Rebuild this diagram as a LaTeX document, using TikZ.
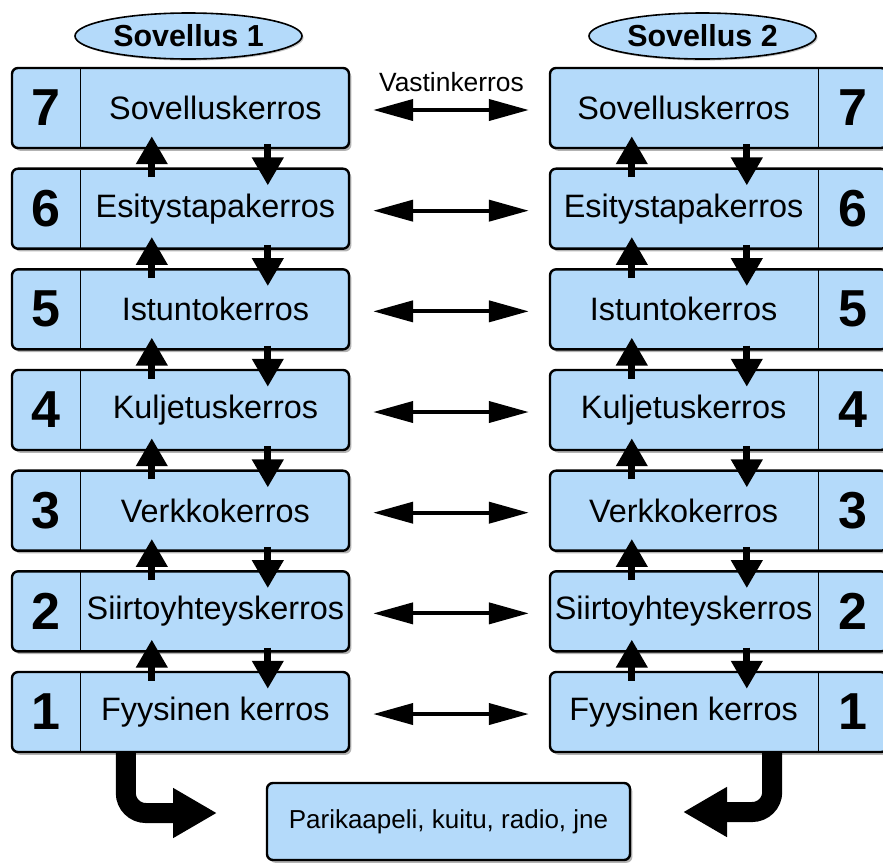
\documentclass[tikz,border=0pt]{standalone}
\usepackage{fontspec}
\setmainfont{Liberation Sans}
\usetikzlibrary{positioning,calc,arrows.meta,shadows,shapes.geometric}
\definecolor{kerros}{RGB}{180,218,250}
\tikzset{ly/.style={draw,line width=1.2pt,rounded corners=3pt,fill=kerros,minimum width=168.5pt,minimum height=40pt,inner sep=0pt,drop shadow={shadow xshift=1.2pt,shadow yshift=-1.4pt,opacity=.6}},
nro/.style={minimum width=34.5pt,minimum height=40pt,inner sep=0pt,font=\fontsize{26}{30}\selectfont\bfseries},
nimi/.style={inner sep=0pt,font=\fontsize{16.2}{19}\selectfont},
app/.style={ellipse,draw,line width=.8pt,fill=kerros,minimum width=113.5pt,minimum height=23pt,inner sep=0pt,font=\fontsize{15.2}{17}\selectfont\bfseries,drop shadow={shadow xshift=.8pt,shadow yshift=-.8pt,opacity=.45}},
pino/.style={line width=3.5pt,-{Triangle[length=14pt,width=15pt]}},
vast/.style={line width=2pt,{Triangle[length=20pt,width=10.5pt]}-{Triangle[length=20pt,width=10.5pt]}},
iso/.style={line width=10pt,rounded corners=10pt,-{Triangle[length=22pt,width=23.5pt]}}}

\begin{document}
\begin{tikzpicture}[x=0.5pt,y=-0.5pt]
  \useasboundingbox (0,0) rectangle (883,863);
  \clip (0,0) rectangle (883,863);
  \node[app] (s1) at (188.5,36) {Sovellus 1};
  \node[app] (s2) at (702.5,36) {Sovellus 2};
  \node[font=\fontsize{13.2}{16}\selectfont] (vk) at (451.5,82) {Vastinkerros};
  \foreach \i/\nimi in {7/Sovelluskerros,6/Esitystapakerros,5/Istuntokerros,4/Kuljetuskerros,3/Verkkokerros,2/Siirtoyhteyskerros,1/Fyysinen kerros}{
    \pgfmathsetmacro\yy{108+100.67*(7-\i)}
    \node[ly] (L\i) at (180.5,\yy) {};
    \node[nro,anchor=west] (L\i n) at (L\i.west) {\i};
    \draw[line width=.8pt] (L\i n.north east) -- (L\i n.south east);
    \node[nimi] (L\i t) at ($(L\i n.east)!.5!(L\i.east)$) {\nimi};
    \node[ly] (R\i) at (718.5,\yy) {};
    \node[nro,anchor=east] (R\i n) at (R\i.east) {\i};
    \draw[line width=.8pt] (R\i n.north west) -- (R\i n.south west);
    \node[nimi] (R\i t) at ($(R\i.west)!.5!(R\i n.west)$) {\nimi};
  }
  \foreach \i in {1,...,7}
    \draw[vast] ([shift={(23,2)}]L\i.east) -- ([shift={(-20,2)}]R\i.west);
  \foreach \i [evaluate=\i as \j using int(\i-1)] in {7,...,2}{
    \draw[pino] ([shift={(141,10)}]L\j.north west) -- ([shift={(141,-13)}]L\i.south west);
    \draw[pino] ([shift={(257,-5)}]L\i.south west) -- ([shift={(257,18)}]L\j.north west);
    \draw[pino] ([shift={(83,10)}]R\j.north west) -- ([shift={(83,-13)}]R\i.south west);
    \draw[pino] ([shift={(198,-5)}]R\i.south west) -- ([shift={(198,18)}]R\j.north west);
  }
  \node[ly,minimum width=181.5pt,minimum height=38.5pt,font=\fontsize{13}{16}\selectfont] (media) at (448.5,821.5) {Parikaapeli, kuitu, radio, jne};
  \coordinate (kL) at (217,813);
  \coordinate (kR) at (683,812);
  \draw[iso] ([shift={(115,0)}]L1.south west) |- (kL);
  \draw[iso] ([shift={(-116,0)}]R1.south east) |- (kR);
\end{tikzpicture}
\end{document}
